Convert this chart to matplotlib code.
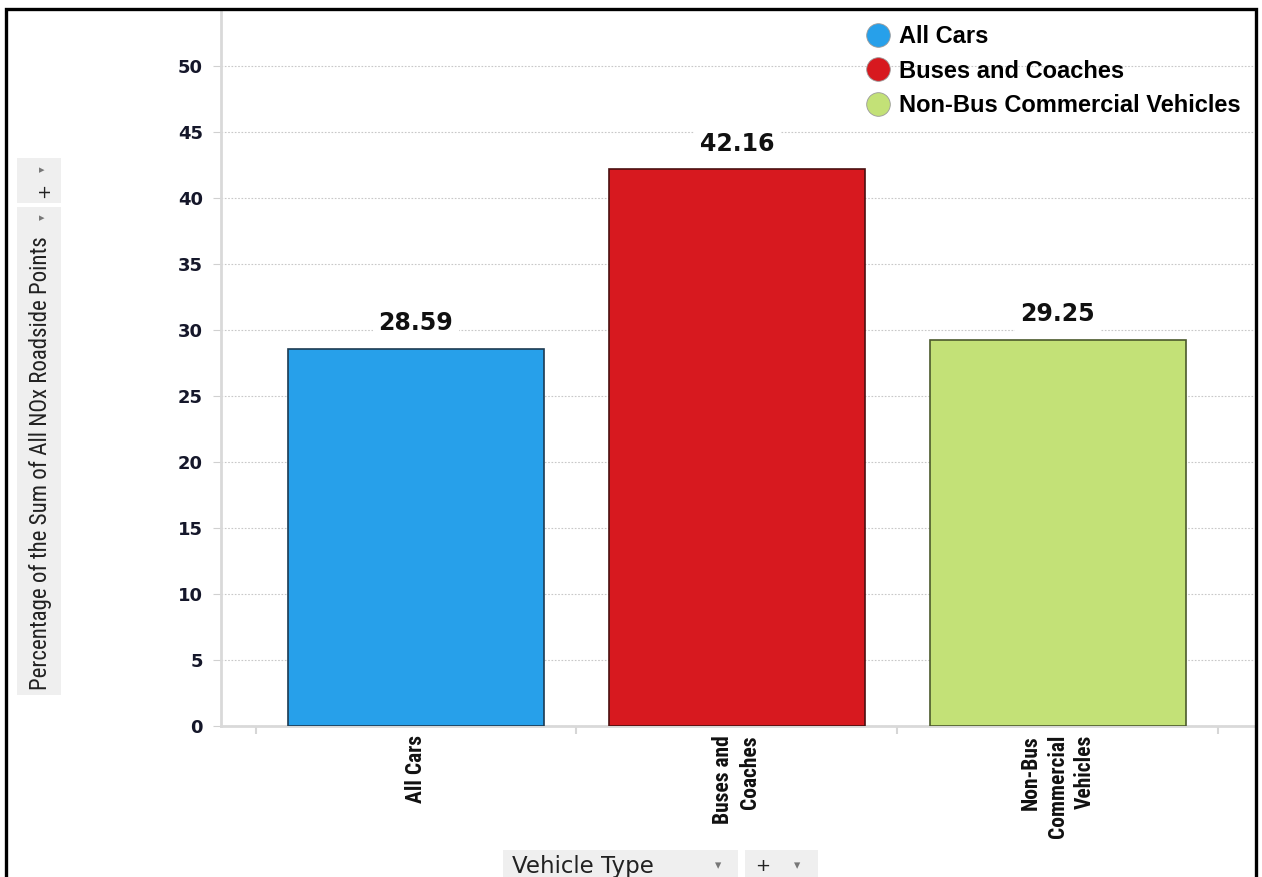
import matplotlib
matplotlib.use("Agg")
import matplotlib.pyplot as plt
from matplotlib import font_manager
from matplotlib.lines import Line2D
from matplotlib.patches import Rectangle

categories = ["All Cars", "Buses and Coaches", "Non-Bus Commercial Vehicles"]
tick_labels = ["All Cars", "Buses and\nCoaches", "Non-Bus\nCommercial\nVehicles"]
values = [28.59, 42.16, 29.25]
colors = ["#27a0ea", "#d7191f", "#c3e177"]
edge_colors = ["#1d3b52", "#4a1010", "#4b5a2c"]
y_ticks = [0, 5, 10, 15, 20, 25, 30, 35, 40, 45, 50]

installed = {f.name for f in font_manager.fontManager.ttflist}
narrow = next((f for f in ["Liberation Sans Narrow", "Roboto Condensed", "DejaVu Sans Condensed"]
               if f in installed), "Liberation Sans")
W, H = 1262, 877

fig = plt.figure(figsize=(W / 100, H / 100), dpi=100)
ax = fig.add_axes([221 / W, 1 - 726 / H, (1254 - 221) / W, (726 - 10) / H])

x = list(range(len(values)))
ax.bar(x, values, width=0.8, color=colors, edgecolor=edge_colors, linewidth=1.2, zorder=3)
for xi, v in zip(x, values):
    ax.text(xi, v + 1.05, f"{v:.2f}", ha="center", va="bottom", fontsize=17,
            fontweight="bold", family="DejaVu Sans", color="#111111", zorder=4,
            bbox=dict(facecolor="white", edgecolor="none", pad=4))

ax.set_xlim(-0.6075, 2.611)
ax.set_ylim(0, 54.24)

ax.set_yticks(y_ticks)
ax.set_yticklabels([str(t) for t in y_ticks], fontsize=13, fontweight="bold",
                   family="DejaVu Sans", color="#15172a")
ax.tick_params(axis="y", length=6, color="#d0d0d0", pad=7)
ax.yaxis.grid(True, linestyle=(0, (1.5, 1.5)), color="#c8c8c8", linewidth=0.8, zorder=0)

# category names, rotated and stacked
ax.set_xticks(x)
ax.set_xticklabels([])
ax.tick_params(axis="x", length=0)
for xi, lab in zip(x, tick_labels):
    ax.annotate(lab, xy=(xi, 0), xycoords=("data", "axes fraction"),
                xytext=(0, -6.5), textcoords="offset points", rotation=90,
                ha="center", va="top", multialignment="right", linespacing=1.3,
                fontsize=15.5, fontweight="bold", family=narrow, color="#111111")
ax.set_xticks([-0.5, 0.5, 1.5, 2.5], minor=True)
ax.tick_params(axis="x", which="minor", length=6, width=1.5, color="#d6d6d6")

for side in ["top", "right"]:
    ax.spines[side].set_visible(False)
for side in ["left", "bottom"]:
    ax.spines[side].set_color("#d9d9d9")
    ax.spines[side].set_linewidth(2)

# legend with round markers
handles = [Line2D([], [], marker="o", linestyle="none", markersize=17,
                  markerfacecolor=c, markeredgecolor="#9a9a9a", markeredgewidth=0.6)
           for c in colors]
fig.legend(handles, categories, loc="upper left", bbox_to_anchor=(851 / W, 1 - 13 / H),
           frameon=False, handletextpad=0.25, labelspacing=0.5, borderpad=0,
           handlelength=1.3, prop=dict(family="Liberation Sans", weight="bold", size=17))

# y axis title panel
fig.patches.append(Rectangle((17 / W, 1 - 695 / H), 44 / W, 488 / H, transform=fig.transFigure,
                             facecolor="#efefef", edgecolor="none"))
fig.patches.append(Rectangle((17 / W, 1 - 203 / H), 44 / W, 45 / H, transform=fig.transFigure,
                             facecolor="#efefef", edgecolor="none"))
fig.text(41 / W, 1 - 690 / H, "Percentage of the Sum of All NOx Roadside Points",
         rotation=90, ha="center", va="bottom", fontsize=16.5, family=narrow, color="#222222")
fig.text(42 / W, 1 - 218 / H, "▸", ha="center", va="center", fontsize=8, color="#777777")
fig.text(42 / W, 1 - 170 / H, "▸", ha="center", va="center", fontsize=8, color="#777777")
fig.text(44 / W, 1 - 191 / H, "+", rotation=90, ha="center", va="center", fontsize=13,
         color="#222222")

# x axis title panel
fig.patches.append(Rectangle((503 / W, 0), 235 / W, 27 / H, transform=fig.transFigure,
                             facecolor="#efefef", edgecolor="none"))
fig.patches.append(Rectangle((745 / W, 0), 73 / W, 27 / H, transform=fig.transFigure,
                             facecolor="#efefef", edgecolor="none"))
fig.text(512 / W, 1 - 866 / H, "Vehicle Type", ha="left", va="center", fontsize=16.5,
         family="DejaVu Sans", color="#222222")
fig.text(718 / W, 1 - 866 / H, "▾", ha="center", va="center", fontsize=9, color="#777777")
fig.text(763 / W, 1 - 866 / H, "+", ha="center", va="center", fontsize=13, color="#222222")
fig.text(797 / W, 1 - 866 / H, "▾", ha="center", va="center", fontsize=9, color="#777777")

# outer frame
fig.patches.append(Rectangle((6 / W, -0.05), 1250 / W, 1.05 - 9 / H, transform=fig.transFigure,
                             facecolor="none", edgecolor="black", linewidth=2.4))

fig.savefig("out.png", dpi=100)
